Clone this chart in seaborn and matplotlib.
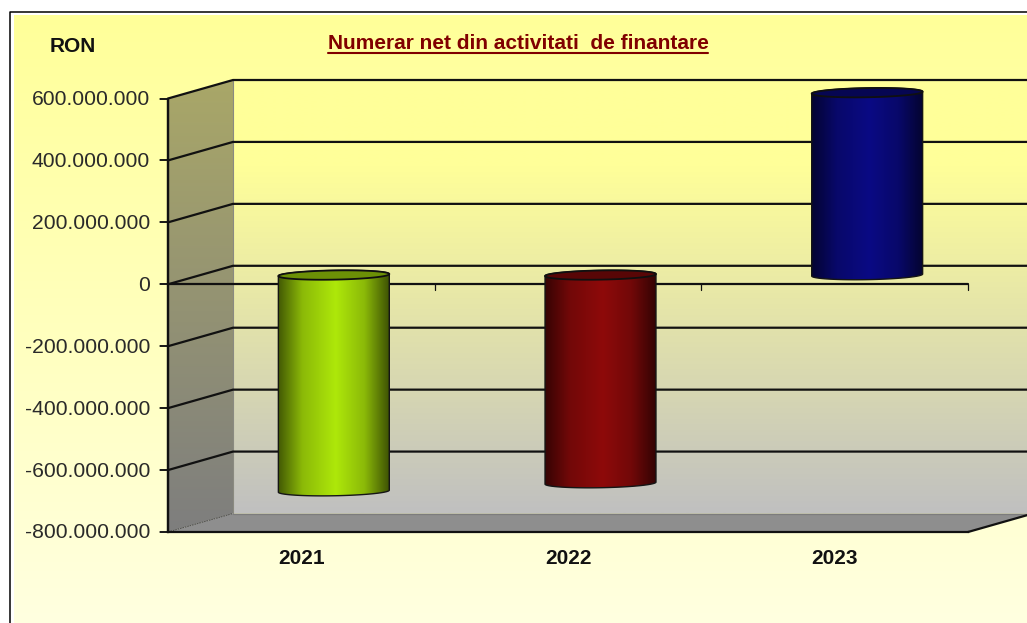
import numpy as np
import pandas as pd
import matplotlib
matplotlib.use("Agg")
import matplotlib.pyplot as plt
import seaborn as sns
from matplotlib.colors import LinearSegmentedColormap, to_rgb
from matplotlib.patches import Polygon
from matplotlib.transforms import Affine2D, ScaledTranslation

years = ["2021", "2022", "2023"]
values = [-698_000_000, -672_000_000, 589_000_000]
bar_colors = ["#AEE80A", "#8E0A0A", "#0A0A84"]
y_ticks = [600_000_000, 400_000_000, 200_000_000, 0, -200_000_000, -400_000_000, -600_000_000, -800_000_000]
y_labels = ["600.000.000", "400.000.000", "200.000.000", "0", "-200.000.000", "-400.000.000", "-600.000.000", "-800.000.000"]
title_text = "Numerar net din activitati  de finantare"
unit_text = "RON"

sns.set_style("white", {"ytick.left": True})
plt.rcParams["font.family"] = ["Liberation Sans", "DejaVu Sans"]

W, H = 1027, 623
DX, DY = 65, 18.5            # depth of the 3D box, in pixels
fig = plt.figure(figsize=(W / 100, H / 100), dpi=100, facecolor="white")

# pixel-space backdrop
bg = fig.add_axes([0, 0, 1, 1], zorder=0)
bg.set_xlim(0, W)
bg.set_ylim(H, 0)
bg.axis("off")

ax = fig.add_axes([168 / W, (H - 532) / H, 800 / W, 433.5 / H], zorder=1)
ax.patch.set_visible(False)

df = pd.DataFrame({"year": years, "value": values})
sns.barplot(data=df, x="year", y="value", hue="year", palette=bar_colors, order=years,
            hue_order=years, width=0.416, saturation=1, legend=False, ax=ax)
ax.set_xlim(-0.5, 2.5)
ax.set_ylim(-800_000_000, 600_000_000)
ax.set_xlabel("")
ax.set_ylabel("")
ax.set_yticks(y_ticks)
ax.set_yticklabels(y_labels, fontsize=15.2, color="#2A2A2A")
ax.tick_params(axis="y", which="major", left=True, length=5.8, width=1.1, color="#111111", pad=7)
ax.tick_params(axis="x", length=0, pad=12)
for lab in ax.get_yticklabels():
    lab.set_transform(lab.get_transform() + Affine2D().translate(0, 1))
for lab in ax.get_xticklabels():
    lab.set_fontsize(15)
    lab.set_fontweight("bold")
    lab.set_color("#111111")
for s in ("top", "right"):
    ax.spines[s].set_visible(False)
for s in ("left", "bottom"):
    ax.spines[s].set_visible(True)
    ax.spines[s].set_color("#111111")
    ax.spines[s].set_linewidth(1.6)


def px(x, y, depth=0.0):
    X, Y = ax.transData.transform((x, y))
    return X + depth * DX, H - Y - depth * DY


def vgrad(stops, extent, clip, zorder):
    cm = LinearSegmentedColormap.from_list("g", stops)
    im = bg.imshow(np.linspace(0, 1, 256)[:, None], cmap=cm, extent=extent, aspect="auto",
                   zorder=zorder, interpolation="bilinear")
    im.set_clip_path(clip)
    return im


# page background and frame
page = Polygon([(14, 15), (W, 15), (W, H), (14, H)], closed=True, fc="none", ec="none")
bg.add_patch(page)
vgrad(["#FFFF99", "#FFFFE0"], [14, W, H, 15], page, 1)
bg.plot([9.5, 9.5, W], [H, 11.5, 11.5], color="black", lw=1.1, zorder=2)

ymin, ymax = -800_000_000, 600_000_000
xl, xr = -0.5, 2.5
fl_b = px(xl, ymin)
fl_t = px(xl, ymax)
bl_b = px(xl, ymin, 1)
bl_t = px(xl, ymax, 1)
fr_b = px(xr, ymin)
br_b = px(xr, ymin, 1)
br_t = px(xr, ymax, 1)

# back wall
back = Polygon([bl_t, br_t, br_b, bl_b], closed=True, fc="none", ec="none")
bg.add_patch(back)
vgrad([(0, "#FFFF99"), (0.2, "#FFFF99"), (1, "#C0C0C0")],
      [bl_t[0], br_t[0], bl_b[1], bl_t[1]], back, 3)
# left wall
left = Polygon([fl_t, bl_t, bl_b, fl_b], closed=True, fc="none", ec="none")
bg.add_patch(left)
vgrad(["#A9A768", "#7E7E7E"], [fl_t[0], bl_t[0], fl_b[1], bl_t[1]], left, 3)
bg.plot([bl_t[0], bl_b[0]], [bl_t[1], bl_b[1]], color="#8A8A80", lw=0.8, zorder=4)
# floor
bg.add_patch(Polygon([fl_b, bl_b, br_b, fr_b], closed=True, fc="#8E8E8E", ec="none", zorder=4))
bg.plot([bl_b[0], br_b[0]], [bl_b[1], br_b[1]], color="#7C7C7C", lw=0.9, zorder=4)
bg.plot([fl_b[0], bl_b[0]], [fl_b[1], bl_b[1]], color="#444444", lw=0.6, ls=(0, (2, 1)), zorder=5)
bg.plot([fr_b[0], br_b[0]], [fr_b[1], br_b[1]], color="#111111", lw=1.6, zorder=5)

# grid lines on walls
for t in y_ticks[:-1]:
    a, b, c = px(xl, t), px(xl, t, 1), px(xr, t, 1)
    bg.plot([a[0], b[0], c[0]], [a[1], b[1], c[1]], color="#111111", lw=1.6,
            solid_joinstyle="miter", zorder=5)
bg.plot([fl_b[0], fl_b[0]], [fl_t[1], fl_b[1]], color="#111111", lw=1.6, zorder=5)

# outside tick marks on the value axis
for t in y_ticks:
    a = px(xl, t)
    bg.plot([a[0] - 8, a[0]], [a[1], a[1]], color="#111111", lw=1.1, zorder=7)

# front zero line with category-boundary ticks
z0 = px(xl, 0)
z1 = px(xr, 0)
bg.plot([z0[0], z1[0]], [z0[1], z1[1]], color="#111111", lw=1.6, zorder=6)
for x in (0.5, 1.5, 2.5):
    p = px(x, 0)
    bg.plot([p[0], p[0]], [p[1], p[1] + 6], color="#111111", lw=0.9, zorder=6)

# cylinders built on the seaborn bars
offset = ax.transData + Affine2D().translate(DX / 2, DY / 2)
unit = (ymax - ymin) / 433.5      # value per pixel
ry = 4.6 * unit
tilt = 1.0 * unit
for patch in ax.patches:
    x0, w = patch.get_x(), patch.get_width()
    y0, h = patch.get_y(), patch.get_height()
    ylo, yhi = min(y0, y0 + h), max(y0, y0 + h)
    col = np.array(to_rgb(patch.get_facecolor()))
    patch.set_visible(False)
    xc, rx = x0 + w / 2, w / 2
    th = np.linspace(0, np.pi, 60)
    ux = np.cos(th)
    # lower half of bottom ellipse (left to right), then upper half of top ellipse
    bx = xc - rx * ux
    by = ylo + tilt * (-ux) - ry * np.sin(th)
    tx = xc + rx * ux
    ty = yhi + tilt * ux + ry * np.sin(th)
    body_pts = np.r_[np.c_[bx, by], np.c_[tx, ty]]
    body = Polygon(body_pts, closed=True, fc="none", ec="#151515", lw=1.0, transform=offset,
                   zorder=4, clip_on=False)
    ax.add_patch(body)
    edge = col * 0.38
    mid = col * 0.80
    cm = LinearSegmentedColormap.from_list(
        "cyl", [(0, edge), (0.22, mid), (0.52, col), (0.78, mid), (1, edge * 0.95)])
    im = ax.imshow(np.linspace(0, 1, 256)[None, :], cmap=cm, aspect="auto", transform=offset,
                   extent=[x0, x0 + w, ylo - 2 * ry, yhi + 2 * ry], zorder=3,
                   interpolation="bilinear")
    im.set_clip_box(fig.bbox)
    im.set_clip_path(body)
    # top face
    th2 = np.linspace(0, 2 * np.pi, 120)
    topx = xc + rx * np.cos(th2)
    topy = yhi + tilt * np.cos(th2) + ry * np.sin(th2)
    ax.add_patch(Polygon(np.c_[topx, topy], closed=True, fc=col * 0.62, ec="#101010", lw=1.3,
                         transform=offset, zorder=5, clip_on=False))
ax.set_xlim(xl, xr)
ax.set_ylim(ymin, ymax)

# texts
fig.text(73 / W, 1 - 46 / H, unit_text, ha="center", va="center", fontsize=15,
         fontweight="bold", color="#111111")
tt = fig.text(518 / W, 1 - 43.5 / H, title_text, ha="center", va="center", fontsize=15,
              fontweight="bold", color="#800000", zorder=5)
bg.plot([328, 708], [52.5, 52.5], color="#800000", lw=1.5, zorder=6)

fig.savefig("out.png", dpi=100, facecolor=fig.get_facecolor())
